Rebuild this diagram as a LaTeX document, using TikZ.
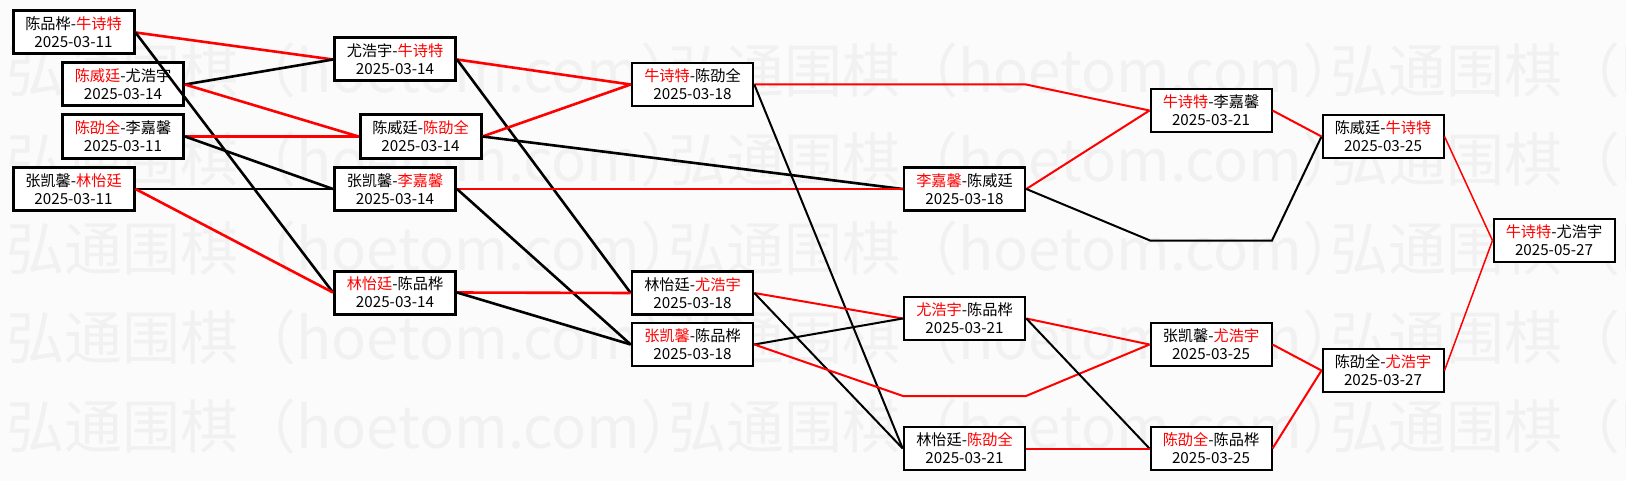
\documentclass[tikz,border=0pt]{standalone}
\usepackage{fontspec}
\setmainfont{Noto Sans CJK SC}
\definecolor{paper}{RGB}{251,251,251}
\definecolor{stamp}{RGB}{241,241,241}
\tikzset{
    match/.style={
        draw,
        fill=white,
        minimum width=60.5pt,
        minimum height=21.5pt,
        inner sep=0pt,
        align=center,
        font=\fontsize{7.6}{9}\selectfont
    },
    first round/.style={match, line width=1.5pt},
    mid round/.style={match, line width=1.3pt},
    late round/.style={match, line width=1pt},
    win line/.style={red},
    loss line/.style={black},
    watermark/.style={stamp, anchor=west, inner sep=0pt, font=\fontsize{29}{29}\selectfont}
}
\newcommand{\Win}[1]{\textcolor{red}{#1}}

\begin{document}
\begin{tikzpicture}[x=.5pt,y=-.5pt]
    \useasboundingbox (0,0) rectangle (1626,481);
    \fill[paper] (0,0) rectangle (1626,481);

    % watermark
    \begin{scope}
        \clip (0,0) rectangle (1626,481);
        \foreach \y in {70,159,248,337,426}
            \foreach \x in {6,668,1330}
                \node[watermark] (wm-\x-\y) at (\x,\y) {弘通围棋（hoetom.com）};
    \end{scope}

    % first two rounds
    \node[first round] (A) at (73.5,32.5) {陈品桦-\Win{牛诗特}\\2025-03-11};
    \node[first round] (B) at (123,84.5) {\Win{陈威廷}-尤浩宇\\2025-03-14};
    \node[first round] (C) at (123,136.5) {\Win{陈劭全}-李嘉馨\\2025-03-11};
    \node[first round] (D) at (73.5,189) {张凯馨-\Win{林怡廷}\\2025-03-11};
    \node[first round] (E) at (395,59.5) {尤浩宇-\Win{牛诗特}\\2025-03-14};
    \node[first round] (F) at (420.5,136.5) {陈威廷-\Win{陈劭全}\\2025-03-14};
    \node[first round] (G) at (395,189) {张凯馨-\Win{李嘉馨}\\2025-03-14};
    \node[first round] (H) at (395,292.5) {\Win{林怡廷}-陈品桦\\2025-03-14};

    \node[mid round] (I) at (692.5,84.5) {\Win{牛诗特}-陈劭全\\2025-03-18};
    \node[mid round] (K) at (692.5,293) {林怡廷-\Win{尤浩宇}\\2025-03-18};
    \node[mid round] (L) at (692.5,344.5) {\Win{张凯馨}-陈品桦\\2025-03-18};
    \node[mid round] (J) at (964.5,189) {\Win{李嘉馨}-陈威廷\\2025-03-18};
    \node[mid round] (M) at (964.5,318.5) {\Win{尤浩宇}-陈品桦\\2025-03-21};
    \node[mid round] (N) at (964.5,448.5) {林怡廷-\Win{陈劭全}\\2025-03-21};

    \node[late round] (O) at (1211,110.5) {\Win{牛诗特}-李嘉馨\\2025-03-21};
    \node[late round] (R) at (1211,344.5) {张凯馨-\Win{尤浩宇}\\2025-03-25};
    \node[late round] (S) at (1211,448.5) {\Win{陈劭全}-陈品桦\\2025-03-25};
    \node[late round] (P) at (1383,136.5) {陈威廷-\Win{牛诗特}\\2025-03-25};
    \node[late round] (T) at (1383,370.5) {陈劭全-\Win{尤浩宇}\\2025-03-27};
    \node[late round] (Q) at (1554,240.5) {\Win{牛诗特}-尤浩宇\\2025-05-27};

    % empty slots
    \coordinate (byeA) at (1026,84.5);
    \coordinate (byeB1) at (903,396);
    \coordinate (byeB2) at (1026,396);
    \coordinate (byeC1) at (1150,240.5);
    \coordinate (byeC2) at (1272,240.5);

    \begin{scope}[line width=1.3pt]
        \draw[win line] (A.east) -- (E.west);
        \draw[loss line] (A.east) -- (H.west);
        \draw[loss line] (B.east) -- (E.west);
        \draw[win line] (B.east) -- (F.west);
        \draw[win line] (C.east) -- (F.west);
        \draw[loss line] (C.east) -- (G.west);
        \draw[loss line] (D.east) -- (G.west);
        \draw[win line] (D.east) -- (H.west);

        \draw[win line] (E.east) -- (I.west);
        \draw[loss line] (E.east) -- (K.west);
        \draw[win line] (F.east) -- (I.west);
        \draw[loss line] (F.east) -- (J.west);
        \draw[win line] (G.east) -- (J.west);
        \draw[loss line] (G.east) -- (L.west);
        \draw[win line] (H.east) -- (K.west);
        \draw[loss line] (H.east) -- (L.west);
    \end{scope}

    \begin{scope}[line width=1pt]
        \draw[win line] (I.east) -- (byeA) -- (O.west);
        \draw[loss line] (I.east) -- (N.west);
        \draw[win line] (K.east) -- (M.west);
        \draw[loss line] (K.east) -- (N.west);
        \draw[loss line] (L.east) -- (M.west);
        \draw[win line] (L.east) -- (byeB1) -- (byeB2) -- (R.west);

        \draw[win line] (J.east) -- (O.west);
        \draw[loss line] (J.east) -- (byeC1) -- (byeC2) -- (P.west);
        \draw[win line] (M.east) -- (R.west);
        \draw[loss line] (M.east) -- (S.west);
        \draw[win line] (N.east) -- (S.west);

        \draw[win line] (O.east) -- (P.west);
        \draw[win line] (R.east) -- (T.west);
        \draw[win line] (S.east) -- (T.west);
    \end{scope}

    \draw[win line, line width=.75pt] (P.east) -- (Q.west);
    \draw[win line, line width=.75pt] (T.east) -- (Q.west);
\end{tikzpicture}
\end{document}
